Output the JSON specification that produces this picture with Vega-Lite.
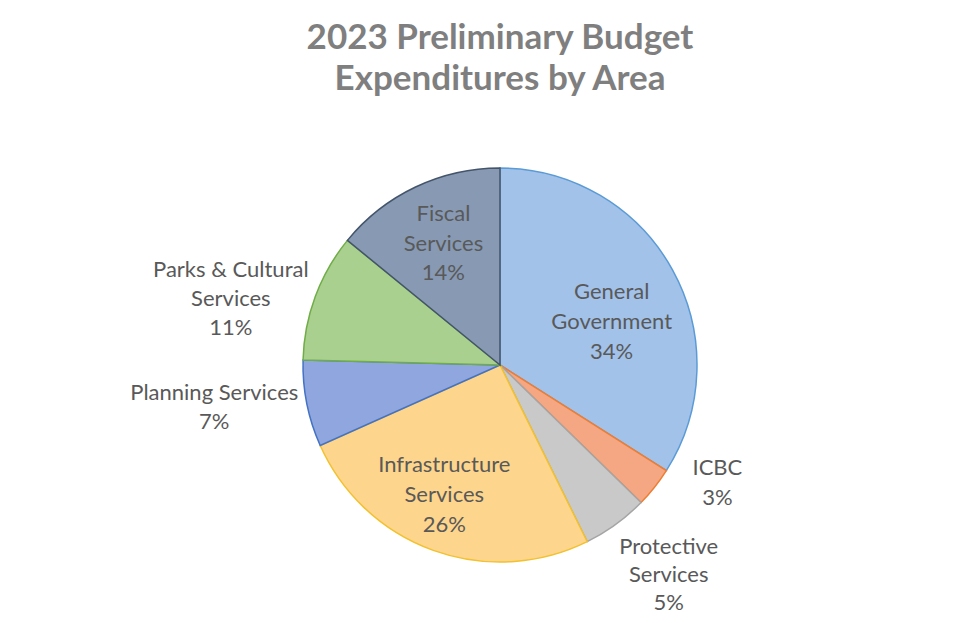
{
  "$schema": "https://vega.github.io/schema/vega-lite/v6.json",
  "autosize": {"type": "none"},
  "width": 920,
  "height": 480,
  "padding": {"left": 40, "top": 125, "right": 0, "bottom": 18},
  "background": "white",
  "title": {
    "text": ["2023 Preliminary  Budget", "Expenditures  by Area"],
    "font": "Lato",
    "fontSize": 35,
    "fontWeight": "bold",
    "color": "#7f7f7f",
    "lineHeight": 41,
    "anchor": "middle",
    "offset": -23
  },
  "config": {"view": {"stroke": null}},
  "data": {
    "values": [
      {"rank": 1, "area": "General Government", "value": 34.0, "label": ["General", "Government", "34%"]},
      {"rank": 2, "area": "ICBC", "value": 3.3, "label": ["ICBC", "3%"]},
      {"rank": 3, "area": "Protective Services", "value": 5.4, "label": ["Protective", "Services", "5%"]},
      {"rank": 4, "area": "Infrastructure Services", "value": 25.6, "label": ["Infrastructure", "Services", "26%"]},
      {"rank": 5, "area": "Planning Services", "value": 7.1, "label": ["Planning Services", "7%"]},
      {"rank": 6, "area": "Parks & Cultural Services", "value": 10.5, "label": ["Parks & Cultural", "Services", "11%"]},
      {"rank": 7, "area": "Fiscal Services", "value": 14.1, "label": ["Fiscal", "Services", "14%"]}
    ]
  },
  "encoding": {
    "theta": {"field": "value", "type": "quantitative", "stack": true},
    "order": {"field": "rank", "type": "quantitative"}
  },
  "layer": [
    {
      "mark": {"type": "arc", "outerRadius": 197, "strokeWidth": 1.5},
      "encoding": {
        "color": {
          "field": "area", "type": "nominal", "legend": null,
          "scale": {
            "domain": ["General Government", "ICBC", "Protective Services", "Infrastructure Services", "Planning Services", "Parks & Cultural Services", "Fiscal Services"],
            "range": ["#a2c2ea", "#f5a682", "#c9c9c9", "#fed58c", "#8fa6de", "#a9d08e", "#8799b3"]
          }
        },
        "stroke": {
          "field": "area", "type": "nominal", "legend": null,
          "scale": {
            "domain": ["General Government", "ICBC", "Protective Services", "Infrastructure Services", "Planning Services", "Parks & Cultural Services", "Fiscal Services"],
            "range": ["#5b9bd5", "#ed7d31", "#a5a5a5", "#f2c12e", "#4472c4", "#70ad47", "#44546a"]
          }
        }
      }
    },
    {
      "mark": {"type": "text", "radius": 132, "dx": -4, "dy": -9, "font": "Lato", "fontSize": 22, "color": "#595959", "lineHeight": 29.8},
      "encoding": {
        "text": {"condition": {"test": "datum.area === 'General Government'", "field": "label"}, "value": ""}
      }
    },
    {
      "mark": {"type": "text", "radius": 132, "dx": 0, "dy": -32, "font": "Lato", "fontSize": 22, "color": "#595959", "lineHeight": 29.8},
      "encoding": {
        "text": {"condition": {"test": "datum.area === 'Fiscal Services'", "field": "label"}, "value": ""}
      }
    },
    {
      "mark": {"type": "text", "radius": 132, "dx": -11, "dy": -24, "font": "Lato", "fontSize": 22, "color": "#595959", "lineHeight": 29.8},
      "encoding": {
        "text": {"condition": {"test": "datum.area === 'Infrastructure Services'", "field": "label"}, "value": ""}
      }
    },
    {
      "mark": {"type": "text", "radius": 270, "dx": -16, "dy": -1, "font": "Lato", "fontSize": 22, "color": "#595959", "lineHeight": 28.7},
      "encoding": {
        "text": {"condition": {"test": "datum.area === 'Parks & Cultural Services'", "field": "label"}, "value": ""}
      }
    },
    {
      "mark": {"type": "text", "radius": 270, "dx": -21, "dy": -25, "font": "Lato", "fontSize": 22, "color": "#595959", "lineHeight": 29},
      "encoding": {
        "text": {"condition": {"test": "datum.area === 'Planning Services'", "field": "label"}, "value": ""}
      }
    },
    {
      "mark": {"type": "text", "radius": 230, "dx": 37, "dy": -40, "font": "Lato", "fontSize": 22, "color": "#595959", "lineHeight": 30},
      "encoding": {
        "text": {"condition": {"test": "datum.area === 'ICBC'", "field": "label"}, "value": ""}
      }
    },
    {
      "mark": {"type": "text", "radius": 270, "dx": 10, "dy": -36, "font": "Lato", "fontSize": 22, "color": "#595959", "lineHeight": 28},
      "encoding": {
        "text": {"condition": {"test": "datum.area === 'Protective Services'", "field": "label"}, "value": ""}
      }
    }
  ]
}
